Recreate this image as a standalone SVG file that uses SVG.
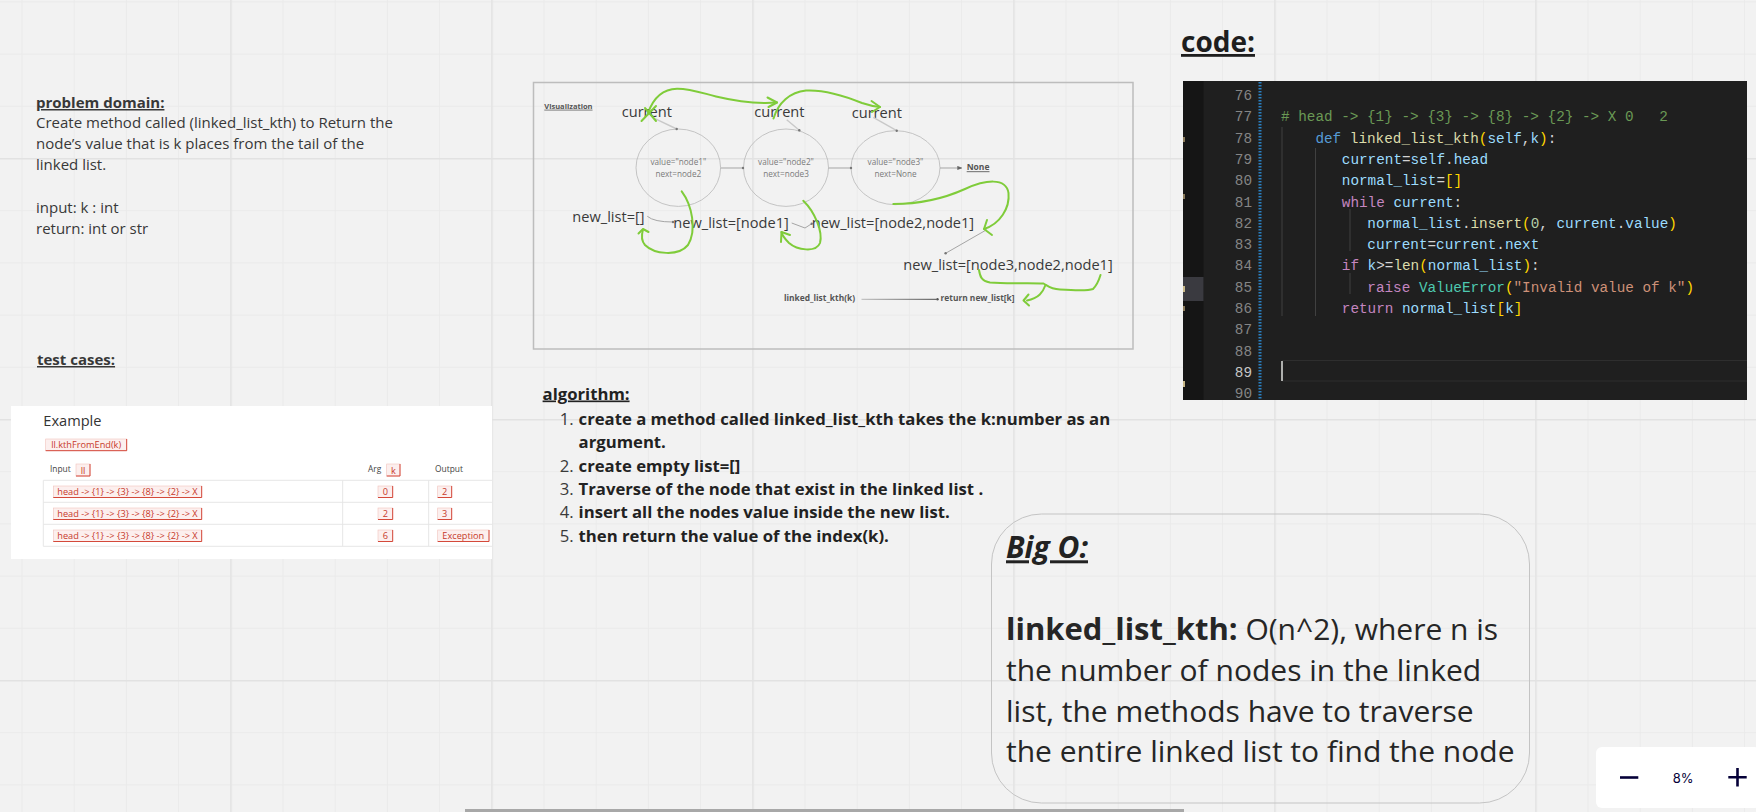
<svg xmlns="http://www.w3.org/2000/svg" width="1756" height="812" viewBox="0 0 1756 812">
<defs>
<pattern id="gMinor" x="21.5" y="1.4" width="52.2" height="52.2" patternUnits="userSpaceOnUse"><path d="M0.5 0V52.2M0 0.5H52.2" stroke="#eaeaea" stroke-width="1" fill="none"/></pattern>
<pattern id="gMajor" x="230.3" y="158" width="261" height="261" patternUnits="userSpaceOnUse"><path d="M0.7 0V261M0 0.7H261" stroke="#e2e2e2" stroke-width="1.4" fill="none"/></pattern>
<marker id="dot" viewBox="0 0 4 4" refX="2" refY="2" markerWidth="4" markerHeight="4" markerUnits="userSpaceOnUse"><circle cx="2" cy="2" r="1.2" fill="#777"/></marker>
<marker id="arr" viewBox="0 0 6 6" refX="5" refY="3" markerWidth="5" markerHeight="5" markerUnits="userSpaceOnUse" orient="auto"><path d="M0 0.5L6 3L0 5.5z" fill="#666"/></marker>
<linearGradient id="lg" gradientUnits="userSpaceOnUse" x1="861.5" y1="299.3" x2="936.6" y2="299.3"><stop offset="0" stop-color="#c4c4c4"/><stop offset="1" stop-color="#6a6a6a"/></linearGradient>
<style>
.t{font-family:"Open Sans","Liberation Sans",sans-serif}
.b{font-weight:700}
.u{text-decoration:underline}
.pd{font-size:15px;fill:#383838}
.viz{font-size:14.6px;fill:#3a3a3a}
.nodet{font-size:8.2px;fill:#7a7a7a;text-anchor:middle}
.small{font-size:8.4px;fill:#555;font-weight:700}
.alg{font-size:16.7px;fill:#222}
.num{font-weight:400;fill:#3a3a3a}
.big{font-size:30px;fill:#262626}
.mono{font-family:"Liberation Mono","DejaVu Sans Mono",monospace;font-size:14.33px;white-space:pre;fill:#d4d4d4}
.ln{font-family:"Liberation Mono","DejaVu Sans Mono",monospace;font-size:14.33px;fill:#858585;text-anchor:end}
.cm{fill:#6a9955}.kw{fill:#569cd6}.fn{fill:#dcdcaa}.vr{fill:#9cdcfe}.br{fill:#ffd700}.ct{fill:#c586c0}.nm{fill:#b5cea8}.cl{fill:#4ec9b0}.st{fill:#ce9178}
.chip{fill:#fcefee;stroke:#f0c2bc;stroke-width:0.6}
.chipb{stroke:#d4493a;stroke-width:1;fill:none}
.chipt{font-size:9.2px;fill:#c73a2b;text-anchor:middle}
.th{font-size:8.4px;fill:#444}
.tl{stroke:#e6e6e6;stroke-width:1;fill:none}
.green{fill:none;stroke:#7fcc3a;stroke-width:2;stroke-linecap:round;stroke-linejoin:round}
.conn{fill:none;stroke:#a5a5a5;stroke-width:1}
.ell{fill:none;stroke:#b8b8b8;stroke-width:0.8}
</style>
</defs>

<!-- background and grid -->
<rect x="0" y="0" width="1756" height="812" fill="#f2f2f2"/>
<rect x="0" y="0" width="1756" height="812" fill="url(#gMinor)"/>
<rect x="0" y="0" width="1756" height="812" fill="url(#gMajor)"/>

<!-- problem domain -->
<g id="problem-domain" class="t">
<text x="36" y="108" class="pd b u" fill="#2a2a2a">problem domain:</text>
<text x="36" y="128.3" class="pd">Create method called (linked_list_kth) to Return the</text>
<text x="36" y="149.3" class="pd">node’s value that is k places from the tail of the</text>
<text x="36" y="170.3" class="pd">linked list.</text>
<text x="36" y="212.7" class="pd">input: k : int</text>
<text x="36" y="233.7" class="pd">return: int or str</text>
</g>

<g id="test-cases-title" class="t">
<text x="37" y="365" class="pd b u" fill="#2a2a2a">test cases:</text>
</g>

<!-- test cases table -->
<g id="test-cases-table" class="t">
<rect x="11" y="406" width="481" height="153" fill="#ffffff"/>
<text x="43.3" y="426" font-size="14.6" fill="#333">Example</text>
<rect x="45.7" y="439" width="81" height="11.7" class="chip"/>
<path d="M45.7 450.7H126.7V439" class="chipb"/>
<text x="86.2" y="448.3" class="chipt">ll.kthFromEnd(k)</text>
<text x="50" y="472" class="th">Input</text>
<rect x="76" y="464" width="14" height="12" class="chip"/><path d="M76 476H90V464" class="chipb"/>
<text x="83" y="473.5" class="chipt">ll</text>
<text x="368" y="472" class="th">Arg</text>
<rect x="386.7" y="464" width="13.3" height="12" class="chip"/><path d="M386.7 476H400V464" class="chipb"/>
<text x="393.3" y="473.5" class="chipt">k</text>
<text x="435" y="472" class="th">Output</text>
<path d="M43.3 480.3H492M43.3 502.3H492M43.3 524.3H492M43.3 546.3H492M43.3 480.3V546.3M342.7 480.3V546.3M428.7 480.3V546.3" class="tl"/>
<!-- row 1 -->
<rect x="53.3" y="486" width="148.4" height="11.5" class="chip"/><path d="M53.3 497.5H201.7V486" class="chipb"/>
<text x="127.5" y="495" class="chipt">head -&gt; {1} -&gt; {3} -&gt; {8} -&gt; {2} -&gt; X</text>
<rect x="378" y="486" width="14.7" height="11.5" class="chip"/><path d="M378 497.5H392.7V486" class="chipb"/>
<text x="385.3" y="495" class="chipt">0</text>
<rect x="437.7" y="486" width="14" height="11.5" class="chip"/><path d="M437.7 497.5H451.7V486" class="chipb"/>
<text x="444.7" y="495" class="chipt">2</text>
<!-- row 2 -->
<rect x="53.3" y="508" width="148.4" height="11.5" class="chip"/><path d="M53.3 519.5H201.7V508" class="chipb"/>
<text x="127.5" y="517" class="chipt">head -&gt; {1} -&gt; {3} -&gt; {8} -&gt; {2} -&gt; X</text>
<rect x="378" y="508" width="14.7" height="11.5" class="chip"/><path d="M378 519.5H392.7V508" class="chipb"/>
<text x="385.3" y="517" class="chipt">2</text>
<rect x="437.7" y="508" width="14" height="11.5" class="chip"/><path d="M437.7 519.5H451.7V508" class="chipb"/>
<text x="444.7" y="517" class="chipt">3</text>
<!-- row 3 -->
<rect x="53.3" y="530" width="148.4" height="11.5" class="chip"/><path d="M53.3 541.5H201.7V530" class="chipb"/>
<text x="127.5" y="539" class="chipt">head -&gt; {1} -&gt; {3} -&gt; {8} -&gt; {2} -&gt; X</text>
<rect x="378" y="530" width="14.7" height="11.5" class="chip"/><path d="M378 541.5H392.7V530" class="chipb"/>
<text x="385.3" y="539" class="chipt">6</text>
<rect x="437.7" y="530" width="51.3" height="11.5" class="chip"/><path d="M437.7 541.5H489V530" class="chipb"/>
<text x="463.3" y="539" class="chipt">Exception</text>
</g>

<!-- visualization frame -->
<g id="visualization" class="t">
<rect x="533.5" y="82.5" width="599.5" height="266.5" fill="none" stroke="#bdbdbd" stroke-width="1.5"/>
<text x="544.3" y="108.7" font-size="7.5" class="b u" fill="#555">Visualization</text>
</g>

<g id="node1" class="t">
<ellipse cx="678.3" cy="167.7" rx="42.3" ry="38.7" class="ell"/>
<text x="678.3" y="165.3" class="nodet">value="node1"</text>
<text x="678.3" y="176.7" class="nodet">next=node2</text>
</g>
<g id="node2" class="t">
<ellipse cx="786" cy="167.7" rx="42.5" ry="38.7" class="ell"/>
<text x="786" y="165.3" class="nodet">value="node2"</text>
<text x="786" y="176.7" class="nodet">next=node3</text>
</g>
<g id="node3" class="t">
<ellipse cx="895.5" cy="167.7" rx="44.5" ry="37" class="ell"/>
<text x="895.5" y="165.3" class="nodet">value="node3"</text>
<text x="895.5" y="176.7" class="nodet">next=None</text>
</g>
<g id="none-label" class="t"><text x="966.7" y="170.3" font-size="8.5" class="b u" fill="#555">None</text></g>
<g id="current1" class="t"><text x="621.7" y="117.3" class="viz">current</text></g>
<g id="current2" class="t"><text x="754.3" y="117.3" class="viz">current</text></g>
<g id="current3" class="t"><text x="851.7" y="117.8" class="viz">current</text></g>
<g id="list0" class="t"><text x="572.3" y="221.5" class="viz">new_list=[]</text></g>
<g id="list1" class="t"><text x="673.3" y="228" class="viz">new_list=[node1]</text></g>
<g id="list2" class="t"><text x="811.7" y="228" class="viz">new_list=[node2,node1]</text></g>
<g id="list3" class="t"><text x="903.3" y="269.7" class="viz">new_list=[node3,node2,node1]</text></g>
<g id="call" class="t"><text x="784" y="300.7" class="small">linked_list_kth(k)</text></g>
<g id="ret" class="t"><text x="940.5" y="300.7" class="small">return new_list[k]</text></g>

<!-- connectors -->
<g id="connectors">
<path d="M720.7 168H743" class="conn" marker-end="url(#dot)"/>
<path d="M828.5 168H851" class="conn" marker-end="url(#dot)"/>
<path d="M940 168H961.5" class="conn" marker-end="url(#arr)"/>
<path d="M655 118.7L676.7 129" stroke="#c9c9c9" stroke-width="1.4" fill="none" marker-end="url(#dot)"/>
<path d="M786.7 119.7L799.3 130.3" stroke="#c9c9c9" stroke-width="1.4" fill="none" marker-end="url(#dot)"/>
<path d="M873.3 117.3L896.7 130.7" stroke="#c9c9c9" stroke-width="1.4" fill="none" marker-end="url(#dot)"/>
<path d="M647.3 216.3Q654 222 673 222" class="conn" marker-end="url(#dot)"/>
<path d="M791.7 223L805 228L811.7 223.7" class="conn" marker-end="url(#dot)"/>
<path d="M986.7 229.7L945.6 253.3" class="conn" marker-end="url(#dot)"/>
<path d="M861.5 299.3H936.6" stroke="url(#lg)" stroke-width="1.3" fill="none"/>
<circle cx="937.5" cy="299.3" r="1.2" fill="#555"/>
</g>

<!-- green hand-drawn annotations -->
<g id="annotations">
<path d="M641.5 121L656 106M645 108L656 121" class="green"/>
<path d="M648 113C654 96 664 89 677 88.7C690 88.5 702 93 716 96.5C735 101 758 104 777 102.5" class="green"/>
<path d="M767.5 97.5L777 102.5L768.5 107" class="green"/>
<path d="M773.5 118.5C778 103 790 92 806 90.5C825 89.5 845 96 862 103C868 105 874 106.5 880 107" class="green"/>
<path d="M871.5 101L880 107L872 112" class="green"/>
<path d="M681.7 191.3C692 205 697 230 688 245C678 257 654 254 645 245C640 239 642 233 643 229.5" class="green"/>
<path d="M638.5 233.5L643 229L648.5 232" class="green"/>
<path d="M803.3 200.7C815 212 823 232 820 243C816 253 797 250 789 243C784 238 782 235 781.5 232" class="green"/>
<path d="M781 242L781.5 232L790 235" class="green"/>
<path d="M893.3 204C920 204 945 198 965 189C985 180 1006 177 1008.5 193C1010 208 1000 224 984 229" class="green"/>
<path d="M987 220L984 229L992 235" class="green"/>
<path d="M979 270C980 276 981 281 990 282.5C1008 284 1030 282.5 1043.5 283.5C1048 286 1050 289 1060 289.5C1075 290.5 1088 291 1093 289C1097 285 1099 280 1100.5 275" class="green"/>
<path d="M1045.5 285C1043 292 1039 298 1027 300.5" class="green"/>
<path d="M1028.5 294.5L1023.5 300.5L1029 305.5" class="green"/>
</g>

<!-- code -->
<g id="code-title" class="t"><text x="1181" y="52" font-size="28" class="b u" fill="#1e1e1e">code:</text></g>
<g id="code-panel">
<rect x="1183" y="81" width="564" height="319" fill="#1f1f1f"/>
<rect x="1183" y="81" width="20.5" height="319" fill="#151515"/>
<rect x="1183" y="277" width="20.5" height="24" fill="#3a3a40"/>
<rect x="1183" y="137" width="2" height="5" fill="#8a7a5a"/>
<rect x="1183" y="194" width="2" height="5" fill="#8a7a5a"/>
<rect x="1183" y="286" width="2" height="6" fill="#c8b888"/>
<rect x="1183" y="306" width="2" height="5" fill="#8a7a5a"/>
<rect x="1183" y="381" width="2" height="6" fill="#c8b888"/>
<line x1="1260" y1="82" x2="1260" y2="400" stroke="#2a7fc0" stroke-width="3" stroke-dasharray="1.5 1.5"/>
<path d="M1282 360.5H1747M1282 381H1747" stroke="#2e2e2e" stroke-width="1.2"/>
<line x1="1282" y1="361" x2="1282" y2="381" stroke="#aeafad" stroke-width="2"/>
<path d="M1282 127V316M1315.5 148V316M1350 209V251M1350 273V294" stroke="#404040" stroke-width="1"/>
<text class="ln" x="1252" y="100">76</text>
<text class="ln" x="1252" y="121.3">77</text>
<text class="ln" x="1252" y="142.6">78</text>
<text class="ln" x="1252" y="163.9">79</text>
<text class="ln" x="1252" y="185.2">80</text>
<text class="ln" x="1252" y="206.5">81</text>
<text class="ln" x="1252" y="227.8">82</text>
<text class="ln" x="1252" y="249.1">83</text>
<text class="ln" x="1252" y="270.4">84</text>
<text class="ln" x="1252" y="291.7">85</text>
<text class="ln" x="1252" y="313">86</text>
<text class="ln" x="1252" y="334.3">87</text>
<text class="ln" x="1252" y="355.6">88</text>
<text class="ln" x="1252" y="376.9" style="fill:#c6c6c6">89</text>
<text class="ln" x="1252" y="398.2">90</text>
<text class="mono" x="1281" y="121.3"><tspan class="cm"># head -&gt; {1} -&gt; {3} -&gt; {8} -&gt; {2} -&gt; X 0   2</tspan></text>
<text class="mono" x="1315.4" y="142.6"><tspan class="kw">def</tspan> <tspan class="fn">linked_list_kth</tspan><tspan class="br">(</tspan><tspan class="vr">self</tspan>,<tspan class="vr">k</tspan><tspan class="br">)</tspan>:</text>
<text class="mono" x="1341.8" y="163.9"><tspan class="vr">current</tspan>=<tspan class="vr">self</tspan>.<tspan class="vr">head</tspan></text>
<text class="mono" x="1341.8" y="185.2"><tspan class="vr">normal_list</tspan>=<tspan class="br">[]</tspan></text>
<text class="mono" x="1341.8" y="206.5"><tspan class="ct">while</tspan> <tspan class="vr">current</tspan>:</text>
<text class="mono" x="1367.3" y="227.8"><tspan class="vr">normal_list</tspan>.<tspan class="fn">insert</tspan><tspan class="br">(</tspan><tspan class="nm">0</tspan>, <tspan class="vr">current</tspan>.<tspan class="vr">value</tspan><tspan class="br">)</tspan></text>
<text class="mono" x="1367.3" y="249.1"><tspan class="vr">current</tspan>=<tspan class="vr">current</tspan>.<tspan class="vr">next</tspan></text>
<text class="mono" x="1341.8" y="270.4"><tspan class="ct">if</tspan> <tspan class="vr">k</tspan>&gt;=<tspan class="fn">len</tspan><tspan class="br">(</tspan><tspan class="vr">normal_list</tspan><tspan class="br">)</tspan>:</text>
<text class="mono" x="1367.3" y="291.7"><tspan class="ct">raise</tspan> <tspan class="cl">ValueError</tspan><tspan class="br">(</tspan><tspan class="st">"Invalid value of k"</tspan><tspan class="br">)</tspan></text>
<text class="mono" x="1341.8" y="313"><tspan class="ct">return</tspan> <tspan class="vr">normal_list</tspan><tspan class="br">[</tspan><tspan class="vr">k</tspan><tspan class="br">]</tspan></text>
</g>

<!-- algorithm -->
<g id="algorithm" class="t">
<text x="542.6" y="399.5" class="alg b u" fill="#222">algorithm:</text>
<text x="559.8" y="425" class="alg num">1.</text>
<text x="578.6" y="425" class="alg b">create a method called linked_list_kth takes the k:number as an</text>
<text x="578.6" y="447.5" class="alg b">argument.</text>
<text x="559.8" y="471.7" class="alg num">2.</text>
<text x="578.6" y="471.7" class="alg b">create empty list=[]</text>
<text x="559.8" y="495" class="alg num">3.</text>
<text x="578.6" y="495" class="alg b">Traverse of the node that exist in the linked list .</text>
<text x="559.8" y="518.3" class="alg num">4.</text>
<text x="578.6" y="518.3" class="alg b">insert all the nodes value inside the new list.</text>
<text x="559.8" y="542.3" class="alg num">5.</text>
<text x="578.6" y="542.3" class="alg b">then return the value of the index(k).</text>
</g>

<!-- Big O -->
<g id="big-o" class="t">
<rect x="991.5" y="514" width="538" height="289" rx="50" ry="50" fill="none" stroke="#c4c4c4" stroke-width="1"/>
<text x="1006" y="558.3" font-size="30" font-weight="700" font-style="italic" class="u" fill="#222">Big O:</text>
<text x="1006" y="640" class="big"><tspan font-weight="700" font-size="31">linked_list_kth:</tspan> O(n^2), where n is</text>
<text x="1006" y="681" class="big">the number of nodes in the linked</text>
<text x="1006" y="721.5" class="big">list, the methods have to traverse</text>
<text x="1006" y="762" class="big">the entire linked list to find the node</text>
</g>

<!-- zoom control -->
<g id="zoom-control">
<rect x="1596" y="747" width="164" height="61" rx="6" fill="#ffffff"/>
<path d="M1620 777.5H1638.3" stroke="#050038" stroke-width="2.6"/>
<path d="M1728.3 777.3H1746.7M1737.5 768V786.6" stroke="#050038" stroke-width="2.6"/>
<text x="1672.7" y="782.5" font-family="Inter, Roboto, 'Liberation Sans', sans-serif" font-size="13" fill="#050038">8%</text>
</g>

<!-- scrollbar -->
<g id="scrollbar"><rect x="465" y="809" width="719" height="3" fill="#a8a8a8"/></g>
</svg>
